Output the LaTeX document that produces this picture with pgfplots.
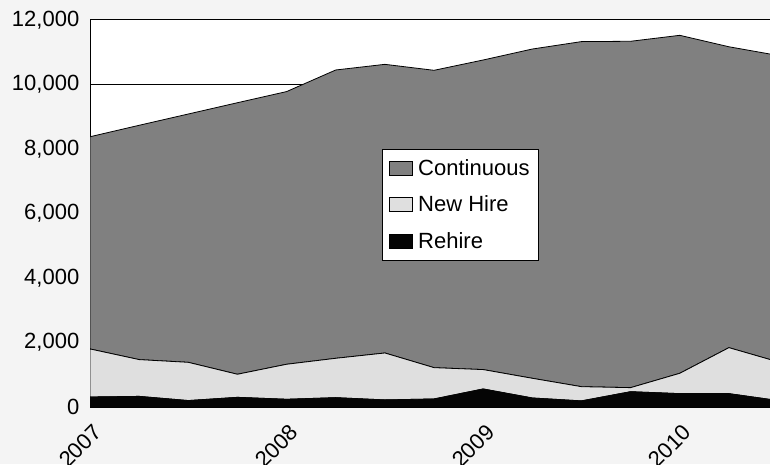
\documentclass[border=0pt]{standalone}
\usepackage{pgfplots}
\pgfplotsset{compat=1.18}
\usepackage{fontspec}
\setmainfont{Liberation Sans}
\definecolor{bg}{HTML}{F4F4F4}
\definecolor{cont}{HTML}{808080}
\definecolor{newh}{HTML}{DFDFDF}
\definecolor{rehi}{HTML}{050505}
\begin{document}
\begin{tikzpicture}
\fill[bg] (0pt,0pt) rectangle (577.5pt,348pt);
\useasboundingbox (0pt,0pt) rectangle (577.5pt,348pt);
\begin{axis}[
  at={(67.5pt,42.75pt)}, anchor=south west,
  scale only axis, width=510pt, height=290.25pt,
  xmin=2007, xmax=2010.459, ymin=0, ymax=12000,
  stack plots=y,
  axis background/.style={fill=white},
  axis lines*=left,
  axis line style={black, line width=0.75pt},
  ymajorgrids, grid style={black, line width=0.75pt},
  ytick={0,2000,...,12000},
  xtick={2007,2008,2009,2010},
  xticklabels={2007,2008,2009,2010},
  tick style={draw=none},
  scaled y ticks=false,
  /pgf/number format/1000 sep={,},
  /pgf/number format/assume math mode=true,
  tick label style={font=\fontsize{16.5}{19}\selectfont},
  yticklabel style={xshift=-4.5pt},
  xticklabel style={rotate=45, anchor=north east, xshift=-4.1pt, yshift=-6.1pt},
  reverse legend,
  legend cell align=left,
  legend style={at={(0.429,0.667)}, anchor=north west, draw=black, line width=0.75pt,
    font=\fontsize{16.5}{19}\selectfont, row sep=10pt, column sep=2pt,
    inner xsep=5pt, inner ysep=5.5pt},
  legend image code/.code={\draw[#1, draw=black, line width=0.75pt] (0pt,-5.25pt) rectangle (17.25pt,5.25pt);},
]
\addplot[fill=rehi, draw=rehi, line width=0.6pt] coordinates {
(2007,310) (2007.25,330) (2007.5,200) (2007.75,300) (2008,240) (2008.25,290) (2008.5,220) (2008.75,250)
(2009,560) (2009.25,280) (2009.5,190) (2009.75,475) (2010,415) (2010.25,415) (2010.5,200)
} \closedcycle;
\addlegendentry{Rehire}
\addplot[fill=newh, draw=black, line width=0.6pt] coordinates {
(2007,1490) (2007.25,1140) (2007.5,1185) (2007.75,715) (2008,1085) (2008.25,1220) (2008.5,1455) (2008.75,970)
(2009,600) (2009.25,610) (2009.5,440) (2009.75,125) (2010,630) (2010.25,1425) (2010.5,1200)
} \closedcycle;
\addlegendentry{New Hire}
\addplot[fill=cont, draw=black, line width=0.6pt] coordinates {
(2007,6580) (2007.25,7265) (2007.5,7700) (2007.75,8420) (2008,8455) (2008.25,8940) (2008.5,8950) (2008.75,9220)
(2009,9600) (2009.25,10210) (2009.5,10700) (2009.75,10740) (2010,10480) (2010.25,9330) (2010.5,9500)
} \closedcycle;
\addlegendentry{Continuous}
\end{axis}
\end{tikzpicture}
\end{document}
